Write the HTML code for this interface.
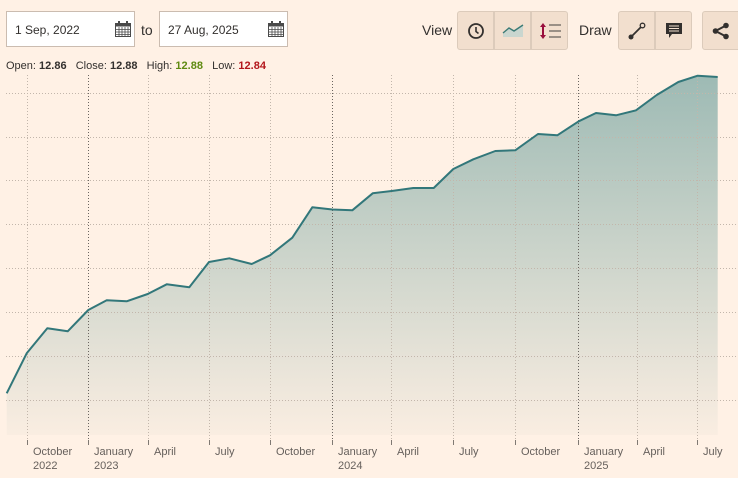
<!DOCTYPE html>
<html><head><meta charset="utf-8"><style>
html,body{margin:0;padding:0;background:#fff1e5;width:738px;height:478px;overflow:hidden;font-family:"Liberation Sans",Arial,sans-serif;}
.abs{position:absolute}
.inp{position:absolute;top:11px;height:36px;width:129px;background:#fff;border:1px solid #cbbcb0;box-sizing:border-box;}
.inp span{position:absolute;left:8px;top:11px;font-size:12px;color:#33302e;}
.btn{position:absolute;top:11px;height:39px;width:37px;background:#f2dfce;border:1px solid #dccbbb;box-sizing:border-box;}
.lbl{position:absolute;font-size:14px;color:#33302e;}
.ohlc{position:absolute;left:6px;top:60px;font-size:11px;color:#33302e;white-space:nowrap;}
.ohlc b{font-weight:bold}
</style></head><body>
<div class="inp" style="left:6px"><span>1 Sep, 2022</span>
<svg class="abs" style="left:107px;top:8px" width="18" height="18" viewBox="0 0 18 18"><rect x="1.5" y="3.5" width="15" height="13" fill="#fff" stroke="#4a4a4a" stroke-width="1"/><rect x="1.5" y="3.5" width="15" height="3" fill="#4a4a4a"/><rect x="4" y="1" width="2" height="4" fill="#4a4a4a"/><rect x="12" y="1" width="2" height="4" fill="#4a4a4a"/><path d="M2 9.5H16M2 12H16M2 14.5H16M5 7V16M8 7V16M11 7V16M14 7V16" stroke="#4a4a4a" stroke-width="0.8"/></svg></div>
<div class="lbl" style="left:141px;top:22px">to</div>
<div class="inp" style="left:159px"><span>27 Aug, 2025</span>
<svg class="abs" style="left:107px;top:8px" width="18" height="18" viewBox="0 0 18 18"><rect x="1.5" y="3.5" width="15" height="13" fill="#fff" stroke="#4a4a4a" stroke-width="1"/><rect x="1.5" y="3.5" width="15" height="3" fill="#4a4a4a"/><rect x="4" y="1" width="2" height="4" fill="#4a4a4a"/><rect x="12" y="1" width="2" height="4" fill="#4a4a4a"/><path d="M2 9.5H16M2 12H16M2 14.5H16M5 7V16M8 7V16M11 7V16M14 7V16" stroke="#4a4a4a" stroke-width="0.8"/></svg></div>

<div class="lbl" style="left:422px;top:22px">View</div>
<div class="btn" style="left:457px;border-radius:3px 0 0 3px"><svg class="abs" style="left:9px;top:10px" width="18" height="18" viewBox="0 0 18 18"><circle cx="9" cy="9" r="7" fill="none" stroke="#33302e" stroke-width="1.8"/><path d="M9 5V9.5L11.5 11.5" fill="none" stroke="#33302e" stroke-width="1.6"/></svg></div>
<div class="btn" style="left:494px"><svg class="abs" style="left:6px;top:9px" width="24" height="20" viewBox="0 0 24 20"><path d="M2 12L8 7L13 10L22 4V16H2Z" fill="#c9d6cf"/><path d="M2 12L8 7L13 10L22 4" fill="none" stroke="#3b7a75" stroke-width="1.4"/></svg></div>
<div class="btn" style="left:531px;border-radius:0 3px 3px 0"><svg class="abs" style="left:7px;top:9px" width="24" height="20" viewBox="0 0 24 20"><path d="M4 2L7 6H1Z M4 18L7 14H1Z" fill="#990f3d"/><rect x="3" y="5" width="2" height="10" fill="#990f3d"/><path d="M10 4H22M10 10H22M10 16H22" stroke="#66605c" stroke-width="1.2"/></svg></div>

<div class="lbl" style="left:579px;top:22px">Draw</div>
<div class="btn" style="left:618px;border-radius:3px 0 0 3px"><svg class="abs" style="left:9px;top:10px" width="18" height="18" viewBox="0 0 18 18"><circle cx="3" cy="15" r="2.5" fill="#33302e"/><circle cx="14.5" cy="3.5" r="2.3" fill="none" stroke="#33302e" stroke-width="1.3"/><path d="M3 15L13 5" stroke="#33302e" stroke-width="1.8"/></svg></div>
<div class="btn" style="left:655px;border-radius:0 3px 3px 0"><svg class="abs" style="left:9px;top:10px" width="18" height="18" viewBox="0 0 18 18"><path d="M1 1H17V12H7L4 16V12H1Z" fill="#33302e"/><path d="M4 4H14M4 6.5H14M4 9H14" stroke="#f2dfce" stroke-width="1"/></svg></div>
<div class="btn" style="left:702px;width:40px;border-radius:3px 0 0 3px"><svg class="abs" style="left:9px;top:10px" width="18" height="18" viewBox="0 0 18 18"><circle cx="14" cy="3.5" r="2.8" fill="#33302e"/><circle cx="3.5" cy="9" r="2.8" fill="#33302e"/><circle cx="14" cy="14.5" r="2.8" fill="#33302e"/><path d="M14 3.5L3.5 9L14 14.5" fill="none" stroke="#33302e" stroke-width="2"/></svg></div>

<div class="ohlc">Open: <b>12.86</b>&nbsp;&nbsp; Close: <b>12.88</b>&nbsp;&nbsp; High: <b style="color:#5f8a10">12.88</b>&nbsp;&nbsp; Low: <b style="color:#b3161b">12.84</b></div>

<svg class="abs" style="left:0;top:0" width="738" height="478" viewBox="0 0 738 478">
<defs><linearGradient id="g" x1="0" y1="75" x2="0" y2="440" gradientUnits="userSpaceOnUse"><stop offset="0" stop-color="#9dbab4"/><stop offset="0.45" stop-color="#c8d2c9"/><stop offset="1" stop-color="#fbeee2"/></linearGradient></defs>
<polygon fill="url(#g)" points="6.7,393.3 26.7,353.3 47.3,328.3 67.7,331.3 88.3,310 106.7,300.3 126.7,301.3 147.7,294 166.7,284.3 189.3,287.3 209,262 229.3,258.3 251.7,264 270,255.3 292.3,237.7 312.3,207.3 332.3,209.5 352.3,210.3 372.7,193.3 391.7,191 413.3,188 433.7,188 453.3,169 473.3,159.3 495.3,151 515.3,150.3 538,134 557.3,135.3 578.7,121.3 596,113 616,115.3 636,110.3 656.7,95 678.3,82 697.7,75.7 717.7,77 717.7,435 6.7,435"/>
<g stroke="#c2b6ab" stroke-width="1" stroke-dasharray="1,2" fill="none">
<path d="M6 93.5H738M6 137.5H738M6 180.5H738M6 224.5H738M6 268.5H738M6 312.5H738M6 356.5H738M6 400.5H738"/>
<path d="M27.5 75V440M148.5 75V440M209.5 75V440M270.5 75V440M391.5 75V440M453.5 75V440M515.5 75V440M637.5 75V440M697.5 75V440"/>
</g>
<g stroke="#6b6560" stroke-width="1" stroke-dasharray="1,2" fill="none">
<path d="M88.5 75V440M332.5 75V440M578.5 75V440"/>
</g>
<g stroke="#807973" stroke-width="1">
<path d="M27.5 440V445M88.5 440V445M148.5 440V445M209.5 440V445M270.5 440V445M332.5 440V445M391.5 440V445M453.5 440V445M515.5 440V445M578.5 440V445M637.5 440V445M697.5 440V445"/>
</g>
<polyline fill="none" stroke="#32777a" stroke-width="2" stroke-linejoin="round" points="6.7,393.3 26.7,353.3 47.3,328.3 67.7,331.3 88.3,310 106.7,300.3 126.7,301.3 147.7,294 166.7,284.3 189.3,287.3 209,262 229.3,258.3 251.7,264 270,255.3 292.3,237.7 312.3,207.3 332.3,209.5 352.3,210.3 372.7,193.3 391.7,191 413.3,188 433.7,188 453.3,169 473.3,159.3 495.3,151 515.3,150.3 538,134 557.3,135.3 578.7,121.3 596,113 616,115.3 636,110.3 656.7,95 678.3,82 697.7,75.7 717.7,77"/>
<g font-family="Liberation Sans, Arial, sans-serif" font-size="11" fill="#66605c">
<text x="33" y="455">October</text><text x="33" y="469">2022</text>
<text x="94" y="455">January</text><text x="94" y="469">2023</text>
<text x="154" y="455">April</text>
<text x="215" y="455">July</text>
<text x="276" y="455">October</text>
<text x="338" y="455">January</text><text x="338" y="469">2024</text>
<text x="397" y="455">April</text>
<text x="459" y="455">July</text>
<text x="521" y="455">October</text>
<text x="584" y="455">January</text><text x="584" y="469">2025</text>
<text x="643" y="455">April</text>
<text x="703" y="455">July</text>
</g>
</svg>
</body></html>
